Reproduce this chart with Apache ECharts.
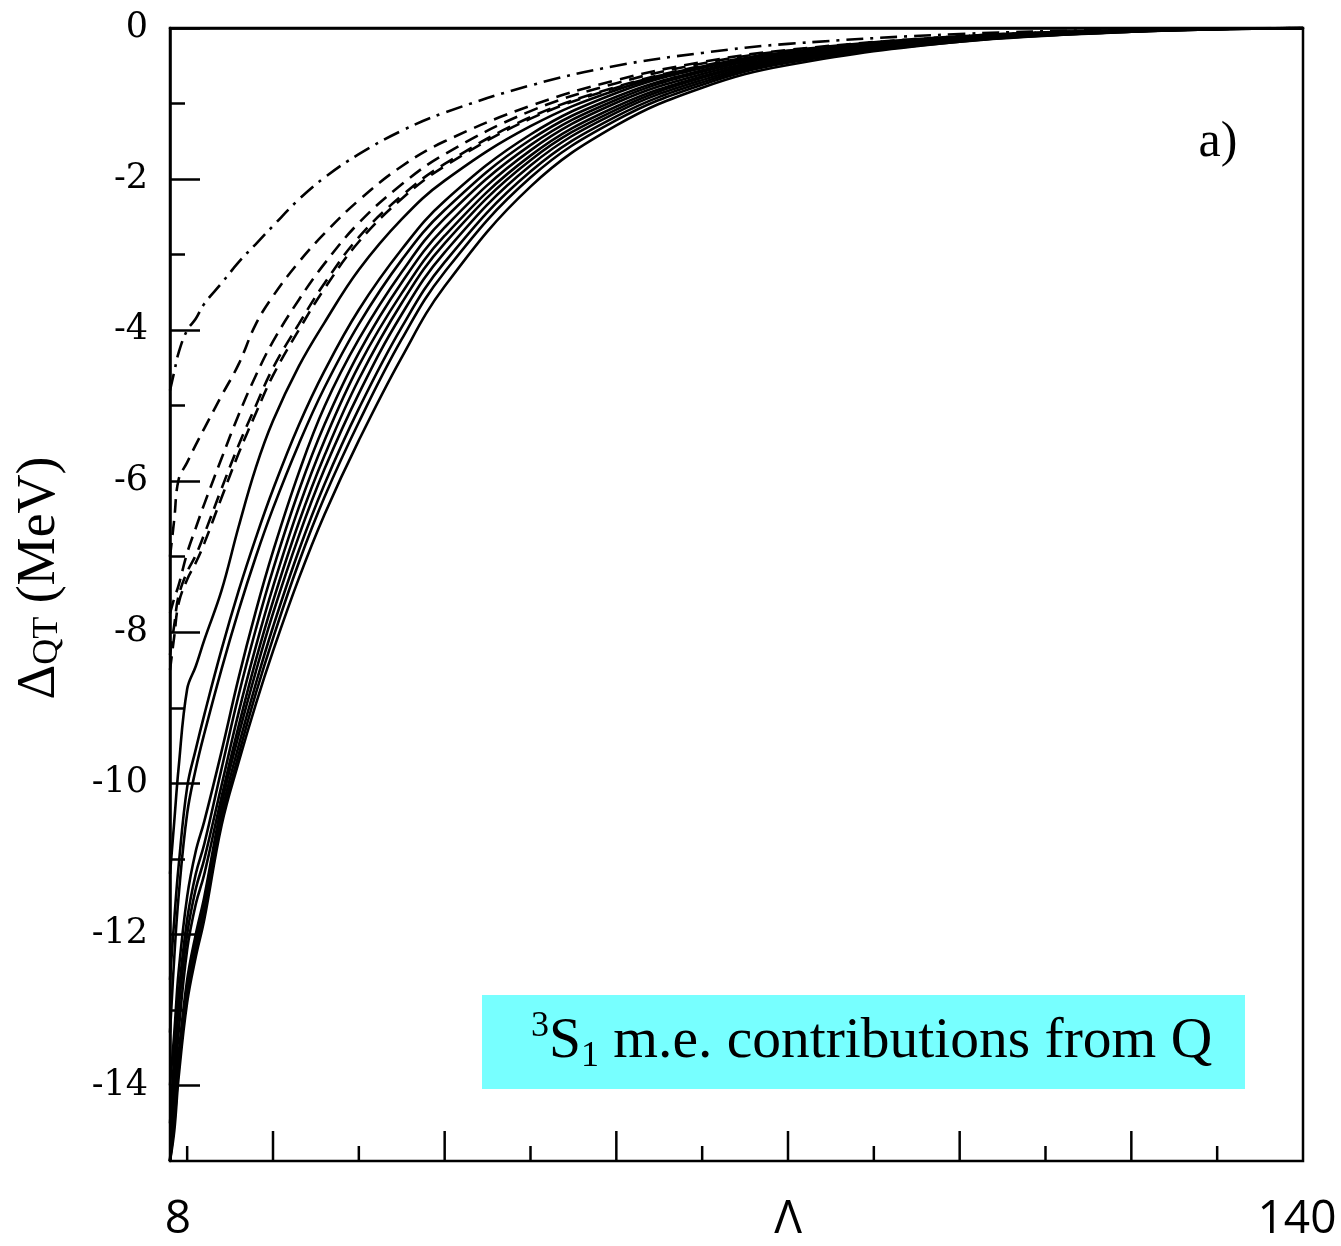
<!DOCTYPE html>
<html><head><meta charset="utf-8">
<script src="https://cdn.jsdelivr.net/npm/echarts@6/dist/echarts.min.js"></script>
<style>html,body{margin:0;padding:0;background:#fff}#c{width:1341px;height:1246px}</style>
</head><body><div id="c"></div>
<script>
// Λ sample points (shared by all curves)
const lambda = [8, 8.5, 9, 10, 11, 12, 14, 16, 18, 20, 23, 26, 30, 35, 40, 50, 60, 70, 80, 100, 120, 140];

// dash-dot curve
const dashDot = [-4.8, -4.55, -4.3, -4.0, -3.85, -3.65, -3.38, -3.1, -2.86, -2.62, -2.27, -1.98, -1.67, -1.36, -1.12, -0.76, -0.5, -0.33, -0.21, -0.08, -0.02, 0];

// dashed curves
const dashed1 = [-7.0, -6.5, -5.98, -5.75, -5.52, -5.3, -4.87, -4.45, -3.92, -3.55, -3.1, -2.72, -2.28, -1.83, -1.5, -1.03, -0.69, -0.45, -0.29, -0.11, -0.03, 0];
const dashed2 = [-7.75, -7.55, -7.38, -6.95, -6.62, -6.3, -5.7, -5.12, -4.6, -4.15, -3.6, -3.12, -2.58, -2.07, -1.67, -1.1, -0.73, -0.47, -0.3, -0.11, -0.03, 0];
const dashed3 = [-8.3, -7.9, -7.52, -7.2, -6.98, -6.7, -6.1, -5.52, -5.0, -4.5, -3.92, -3.38, -2.77, -2.22, -1.8, -1.18, -0.78, -0.5, -0.32, -0.12, -0.03, 0];
const dashed4 = [-8.5, -8.05, -7.62, -7.3, -7.08, -6.82, -6.22, -5.63, -5.1, -4.6, -4.0, -3.45, -2.83, -2.26, -1.83, -1.2, -0.79, -0.51, -0.32, -0.12, -0.03, 0];

// solid curves
const solid1 = [-11.2, -10.5, -9.8, -8.75, -8.45, -8.1, -7.45, -6.6, -5.82, -5.2, -4.48, -3.9, -3.2, -2.53, -2.02, -1.3, -0.82, -0.52, -0.33, -0.12, -0.03, 0];
const solid2 = [-12.6, -11.8, -11.1, -10.05, -9.55, -9.09, -8.23, -7.45, -6.75, -6.11, -5.26, -4.54, -3.73, -2.93, -2.29, -1.41, -0.86, -0.53, -0.33, -0.12, -0.03, 0];
const solid3 = [-13.3, -12.3, -11.5, -10.4, -9.81, -9.34, -8.49, -7.71, -7.0, -6.36, -5.51, -4.76, -3.92, -3.07, -2.41, -1.48, -0.91, -0.56, -0.34, -0.13, -0.035, 0];
const solid4 = [-14.0, -13.3, -12.5, -11.5, -10.9, -10.5, -9.58, -8.6, -7.72, -6.93, -5.89, -5.01, -4.12, -3.23, -2.52, -1.55, -0.95, -0.58, -0.36, -0.14, -0.035, 0];
const solid5 = [-14.5, -13.6, -12.8, -11.8, -11.2, -10.8, -9.81, -8.83, -7.96, -7.17, -6.13, -5.25, -4.3, -3.37, -2.64, -1.62, -0.99, -0.61, -0.38, -0.15, -0.04, 0];
const solid6 = [-15, -13.9, -13.0, -12.0, -11.4, -11.0, -10.03, -9.06, -8.19, -7.4, -6.35, -5.46, -4.47, -3.51, -2.75, -1.69, -1.04, -0.64, -0.39, -0.15, -0.04, 0];
const solid7 = [-15, -14.1, -13.3, -12.2, -11.6, -11.2, -10.18, -9.24, -8.37, -7.59, -6.55, -5.66, -4.65, -3.64, -2.85, -1.75, -1.08, -0.66, -0.41, -0.16, -0.045, 0];
const solid8 = [-15, -14.3, -13.6, -12.6, -12.0, -11.5, -10.29, -9.36, -8.52, -7.75, -6.73, -5.84, -4.84, -3.79, -2.97, -1.82, -1.12, -0.69, -0.42, -0.17, -0.045, 0];
const solid9 = [-15, -14.4, -13.7, -12.7, -12.1, -11.6, -10.4, -9.5, -8.68, -7.93, -6.92, -6.04, -5.04, -3.96, -3.1, -1.9, -1.17, -0.72, -0.44, -0.17, -0.05, 0];
const solid10 = [-15, -14.5, -13.8, -12.8, -12.2, -11.7, -10.49, -9.62, -8.81, -8.08, -7.08, -6.21, -5.22, -4.12, -3.23, -1.98, -1.22, -0.75, -0.46, -0.18, -0.05, 0];
const solid11 = [-15, -14.6, -13.9, -12.9, -12.3, -11.8, -10.56, -9.72, -8.95, -8.25, -7.29, -6.44, -5.46, -4.36, -3.42, -2.1, -1.29, -0.79, -0.49, -0.18, -0.05, 0];

// axis ticks / labels
const xMajorTicks = [20, 40, 60, 80, 100, 120];
const xMinorTicks = [10, 30, 50, 70, 90, 110, 130];
const xLabelValues = [8, 80, 140];
const xLabelText = {8: '{p|8}', 80: 'Λ', 140: '{q|140}'};
const yMajorTicks = [-14, -12, -10, -8, -6, -4, -2, 0];
const yMinorTicks = [-13, -11, -9, -7, -5, -3, -1];
const yLabelValues = [-14, -12, -10, -8, -6, -4, -2, 0];

const chart = echarts.init(document.getElementById('c'), null, {renderer: 'canvas'});

function mk(vals, type) {
  return {
    type: 'line',
    data: lambda.map((x, i) => [x, vals[i]]),
    smooth: 0.4,
    showSymbol: false,
    symbol: 'none',
    silent: true,
    lineStyle: {color: '#000', width: 2.6, type: type}
  };
}

function tickSeries(values, len) {
  return {
    type: 'custom',
    silent: true,
    clip: false,
    data: values.map(v => [v, -15]),
    renderItem: function (params, api) {
      const p = api.coord([api.value(0), api.value(1)]);
      return {type: 'line', shape: {x1: p[0], y1: p[1], x2: p[0], y2: p[1] - len},
              style: {stroke: '#000', lineWidth: 2.5}};
    }
  };
}

const series = [
  mk(dashDot, [17, 7, 3, 7]),
  mk(dashed1, [14, 8]),
  mk(dashed2, [14, 8]),
  mk(dashed3, [14, 8]),
  mk(dashed4, [14, 8]),
  mk(solid1, 'solid'), mk(solid2, 'solid'), mk(solid3, 'solid'), mk(solid4, 'solid'),
  mk(solid5, 'solid'), mk(solid6, 'solid'), mk(solid7, 'solid'), mk(solid8, 'solid'),
  mk(solid9, 'solid'), mk(solid10, 'solid'), mk(solid11, 'solid'),
  tickSeries(xMajorTicks, 30),
  tickSeries(xMinorTicks, 15)
];

const axisCol = '#000';
chart.setOption({
  animation: false,
  backgroundColor: '#fff',
  grid: {left: 170, top: 28, width: 1133, height: 1133, containLabel: false, outerBoundsMode: 'none',
         show: true, borderColor: '#000', borderWidth: 2.5, backgroundColor: 'transparent'},
  xAxis: {type: 'value', min: 8, max: 140, position: 'bottom',
     axisLine: {show: true, lineStyle: {color: axisCol, width: 2.5}},
     axisTick: {show: false},
     axisLabel: {show: true, customValues: xLabelValues, margin: 36, color: '#000',
       fontFamily: 'Open Sans', fontSize: 46, hideOverlap: false,
       formatter: v => xLabelText[v] || '',
       rich: {p: {fontFamily: 'Open Sans', fontSize: 46, padding: [0, 0, 0, 16]},
              q: {fontFamily: 'Open Sans', fontSize: 46, padding: [0, 12, 0, 0]}}},
     splitLine: {show: false}},
  yAxis: [
    {type: 'value', min: -15, max: 0, position: 'left',
     axisLine: {show: true, lineStyle: {color: axisCol, width: 2.5}},
     axisTick: {show: true, inside: true, length: 30, customValues: yMajorTicks, lineStyle: {color: axisCol, width: 2.5}},
     axisLabel: {show: true, customValues: yLabelValues, margin: 22, color: '#000', fontFamily: 'DejaVu Serif', fontSize: 35},
     splitLine: {show: false}},
    {type: 'value', min: -15, max: 0, position: 'left',
     axisLine: {show: false},
     axisTick: {show: true, inside: true, length: 15, customValues: yMinorTicks, lineStyle: {color: axisCol, width: 2.5}},
     axisLabel: {show: false}, splitLine: {show: false}}
  ],
  graphic: [
    {type: 'rect', left: 482, top: 995, shape: {width: 763, height: 94}, style: {fill: '#77ffff'}, z: 1},
    {type: 'text', x: 531, y: 1042, z: 2,
     style: {text: '{sup|3}{m|S}{sub|1}{m| m.e. contributions from Q}', verticalAlign: 'middle', fill: '#000',
       rich: {
         m: {fontFamily: 'Liberation Serif', fontSize: 57.5, lineHeight: 66, fill: '#000'},
         sup: {fontFamily: 'Liberation Serif', fontSize: 36, lineHeight: 66, verticalAlign: 'top', padding: [0, 0, 30, 0], fill: '#000'},
         sub: {fontFamily: 'Liberation Serif', fontSize: 36, lineHeight: 66, verticalAlign: 'bottom', padding: [22, 0, 0, 0], fill: '#000'}
       }}},
    {type: 'text', x: 1218, y: 143, z: 2,
     style: {text: 'a)', fontFamily: 'Liberation Serif', fontSize: 50, fill: '#000', align: 'center', verticalAlign: 'middle'}},
    {type: 'text', x: 40, y: 578, rotation: Math.PI / 2, z: 2,
     style: {text: '{m|Δ}{sub|QT}{m| (MeV)}', align: 'center', verticalAlign: 'middle', fill: '#000',
       rich: {
         m: {fontFamily: 'Liberation Serif', fontSize: 54, lineHeight: 60, fill: '#000'},
         sub: {fontFamily: 'Liberation Serif', fontSize: 36, lineHeight: 60, padding: [16, 0, 0, 0], fill: '#000'}
       }}}
  ],
  series: series
});
</script></body></html>
